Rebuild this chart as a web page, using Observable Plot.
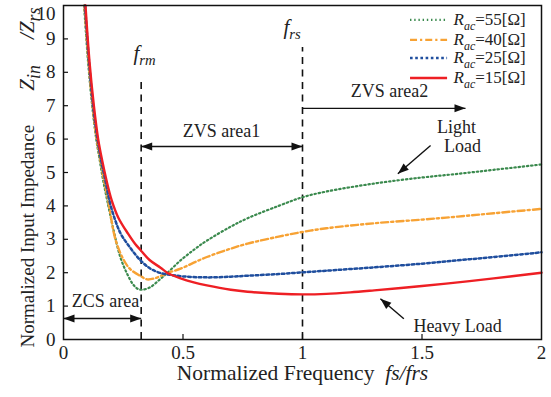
<!DOCTYPE html>
<html><head><meta charset="utf-8">
<script src="https://cdn.jsdelivr.net/npm/d3@7"></script>
<script src="https://cdn.jsdelivr.net/npm/@observablehq/plot@0.6"></script>
<style>
html,body{margin:0;padding:0;background:#fff;}
svg text{font-family:"Liberation Serif","Times New Roman",serif;}
</style></head><body><div id="chart"></div>
<script>
// ---- data ----
const seriesRac = [55, 40, 25, 15];
const freq55 = [0.086,0.103,0.120,0.137,0.152,0.166,0.183,0.21,0.238,0.266,0.29,0.31,0.33,0.364,0.40,0.434,0.49,0.55,0.6,0.7,0.77,0.9,1.0,1.1,1.3,1.5,1.65,1.8,2.0];
const z55    = [10,8.3,7.0,6.0,5.35,4.76,4.16,3.26,2.46,1.97,1.66,1.52,1.49,1.57,1.78,1.99,2.37,2.71,2.96,3.38,3.63,4.0,4.26,4.43,4.67,4.85,4.96,5.08,5.24];
const freq40 = [0.088,0.105,0.122,0.139,0.155,0.170,0.187,0.218,0.252,0.28,0.322,0.35,0.385,0.434,0.49,0.545,0.6,0.7,0.77,0.9,1.0,1.1,1.3,1.5,1.65,1.8,2.0];
const z40    = [10,8.3,7.0,6.0,5.35,4.76,4.16,2.98,2.38,2.1,1.9,1.8,1.84,1.99,2.12,2.3,2.47,2.72,2.87,3.08,3.22,3.33,3.48,3.59,3.68,3.78,3.91];
const freq25 = [0.090,0.107,0.124,0.142,0.158,0.175,0.192,0.215,0.24,0.28,0.322,0.364,0.406,0.434,0.5,0.6,0.7,0.77,0.9,1.0,1.1,1.3,1.5,1.65,1.8,2.0];
const z25    = [10,8.3,7.0,6.0,5.35,4.76,4.16,3.6,3.16,2.74,2.37,2.12,1.99,1.95,1.89,1.86,1.88,1.91,1.96,2.01,2.06,2.16,2.27,2.37,2.47,2.61];
const freq15 = [0.092,0.109,0.127,0.145,0.162,0.180,0.202,0.23,0.27,0.3,0.322,0.36,0.406,0.434,0.49,0.545,0.6,0.7,0.77,0.9,1.0,1.1,1.2,1.3,1.5,1.65,1.8,2.0];
const z15    = [10,8.3,7.0,6.0,5.35,4.76,4.16,3.64,3.17,2.86,2.68,2.38,2.15,2.0,1.83,1.71,1.62,1.49,1.43,1.37,1.35,1.365,1.41,1.47,1.6,1.71,1.83,2.0];

const xTicks = [0, 0.5, 1, 1.5, 2];
const xInnerTicks = [0.5, 1, 1.5];
const yTicks = [0,1,2,3,4,5,6,7,8,9];
const yTopTick = [10];
const yInnerTicks = [1,2,3,4,5,6,7,8,9];

const xTitle = "Normalized Frequency  *fs/frs*";
const yTitleMain = "Normalized Input Impedance";
const yTitleSym = "*Z*_[in]     */Z*_[rs]";

// legend
const legendLabel = seriesRac.map(r => `*R*_{ac}=${r}[Ω]`);
const legendY = [9.57, 8.97, 8.43, 7.83];
const legendX1 = 1.452, legendX2 = 1.607, legendTextX = 1.632;

// vertical markers
const markerF = [0.325, 1.0];
const markerTop = [7.75, 8.74];
const markerLabel = ["*f*_{rm}", "*f*_{rs}"];
const markerLabelX = [0.293, 0.92];
const markerLabelY = [8.38, 9.16];

// annotations
const noteText = ["ZCS area", "ZVS area1", "ZVS area2", "Light", "Load", "Heavy Load"];
const noteX = [0.176, 0.661, 1.364, 1.644, 1.669, 1.649];
const noteY = [0.96, 6.05, 7.25, 6.17, 5.60, 0.21];

// arrows
const arrowX1 = [0, 0.325, 1.0, 1.536, 1.424];
const arrowY1 = [0.63, 5.78, 6.92, 5.81, 0.62];
const arrowX2 = [0.325, 1.0, 1.682, 1.399, 1.326];
const arrowY2 = [0.63, 5.78, 6.92, 4.96, 1.22];
const arrowBoth = [true, true, false, false, false];

// ---- styles ----
const FONT = "Liberation Serif";
const colors = ["#3b8a4e", "#f7a234", "#1f4e9e", "#ee1f24"];
const dashes = ["1.4,2.8", "7,3,2.2,3", "2.6,2.6", null];
const widths = [2.2, 2.4, 2.5, 2.4];

const W = 551, H = 397, mL = 63, mR = 10, mT = 5, mB = 58;
const kx = (W - mL - mR) / 2, ky = (H - mT - mB) / 10;

const freqs = [freq55, freq40, freq25, freq15];
const zs = [z55, z40, z25, z15];

const lineMarks = seriesRac.map((r, i) =>
  Plot.line(freqs[i].map((f, j) => ({f, z: zs[i][j]})), {
    x: "f", y: "z", stroke: colors[i], strokeWidth: widths[i],
    strokeDasharray: dashes[i], curve: "catmull-rom"
  }));

const legendMarks = seriesRac.flatMap((r, i) => [
  Plot.ruleY([legendY[i]], {x1: legendX1, x2: legendX2, stroke: colors[i], strokeWidth: widths[i], strokeDasharray: dashes[i]}),
  Plot.text([legendLabel[i]], {x: legendTextX, y: legendY[i], text: d => d, textAnchor: "start", fontSize: 17, fontFamily: FONT})
]);

// arrowheads: custom symbol with tip at the origin
function headSymbol(a) {
  const L = 11, Wd = 4, c = Math.cos(a), s = Math.sin(a);
  return {draw(ctx) {
    ctx.moveTo(0, 0);
    ctx.lineTo(-L * c + Wd * s, -L * s - Wd * c);
    ctx.lineTo(-L * c - Wd * s, -L * s + Wd * c);
    ctx.closePath();
  }};
}
const arrowMarks = [];
arrowX1.forEach((x1, i) => {
  const y1 = arrowY1[i], x2 = arrowX2[i], y2 = arrowY2[i];
  arrowMarks.push(Plot.link([0], {x1: () => x1, y1: () => y1, x2: () => x2, y2: () => y2, stroke: "#111", strokeWidth: 1.4}));
  const a = Math.atan2(-(y2 - y1) * ky, (x2 - x1) * kx);
  arrowMarks.push(Plot.dot([0], {x: () => x2, y: () => y2, symbol: headSymbol(a), fill: "#111", stroke: "none"}));
  if (arrowBoth[i]) arrowMarks.push(Plot.dot([0], {x: () => x1, y: () => y1, symbol: headSymbol(a + Math.PI), fill: "#111", stroke: "none"}));
});

const plot = Plot.plot({
  width: W, height: H,
  marginLeft: mL, marginRight: mR, marginTop: mT, marginBottom: mB,
  x: {domain: [0, 2], axis: null},
  y: {domain: [0, 10], axis: null},
  style: {fontFamily: FONT, fontSize: "18px", background: "#fff", color: "#222"},
  marks: [
    Plot.ruleX(markerF.map((f, i) => ({f, top: markerTop[i]})), {x: "f", y1: 0, y2: "top", stroke: "#111", strokeWidth: 1.6, strokeDasharray: "7,5.5"}),
    ...lineMarks,
    Plot.ruleX(xInnerTicks, {x: d => d, y1: 0, y2: 5 / ky, stroke: "#111", strokeWidth: 1.2}),
    Plot.ruleY(yInnerTicks, {y: d => d, x1: 0, x2: 5 / kx, stroke: "#111", strokeWidth: 1.2}),
    Plot.frame({stroke: "#111", strokeWidth: 1.5}),
    Plot.text(xTicks, {x: d => d, y: 0, text: d => String(d), dy: 19, lineAnchor: "bottom", fontSize: 19, fontFamily: FONT}),
    Plot.text(yTicks, {x: 0, y: d => d, text: d => String(d), textAnchor: "end", dx: -8, fontSize: 19, fontFamily: FONT}),
    Plot.text(yTopTick, {x: 0, y: d => d, text: d => String(d), textAnchor: "end", dx: -8, dy: 8, fontSize: 19, fontFamily: FONT}),
    Plot.text([xTitle], {text: d => d, frameAnchor: "bottom", textAnchor: "middle", dy: 40, lineAnchor: "bottom", fontSize: 21.5, fontFamily: FONT}),
    Plot.text([yTitleMain], {text: d => d, frameAnchor: "bottom-left", textAnchor: "start", dx: -30, dy: 8, rotate: -90, lineAnchor: "bottom", fontSize: 19, fontFamily: FONT}),
    Plot.text([yTitleSym], {text: d => d, frameAnchor: "top-left", textAnchor: "end", dx: -30, dy: 2, rotate: -90, lineAnchor: "bottom", fontSize: 21, fontFamily: FONT}),
    ...legendMarks,
    Plot.text(markerLabel, {x: (d, i) => markerLabelX[i], y: (d, i) => markerLabelY[i], text: d => d, textAnchor: "start", lineAnchor: "bottom", fontSize: 21, fontFamily: FONT}),
    Plot.text(noteText, {x: (d, i) => noteX[i], y: (d, i) => noteY[i], text: d => d, lineAnchor: "bottom", fontSize: 18, fontFamily: FONT}),
    ...arrowMarks
  ]
});

document.getElementById("chart").appendChild(plot);

// rich text: *italic*, _{small italic subscript}, _[larger italic subscript]
d3.select(plot).selectAll("text").each(function () {
  const src = this.textContent;
  if (!/[*]|_[{\[]/.test(src)) return;
  const el = d3.select(this);
  el.text(null);
  const re = /\*([^*]+)\*|_\{([^}]+)\}|_\[([^\]]+)\]|([^*_]+)/g;
  let m, back = null;
  while ((m = re.exec(src))) {
    const t = el.append("tspan");
    const sub = m[2] !== undefined ? m[2] : m[3];
    if (sub !== undefined) {
      const k = m[2] !== undefined ? 0.7 : 0.85;
      t.text(sub).attr("font-style", "italic").attr("font-size", k + "em").attr("dy", "0.36em");
      back = `-${(0.36 * k).toFixed(3)}em`;
    } else {
      t.text(m[1] !== undefined ? m[1] : m[4]);
      if (m[1] !== undefined) t.attr("font-style", "italic");
      if (back) { t.attr("dy", back); back = null; }
    }
  }
});
</script>
</body></html>
